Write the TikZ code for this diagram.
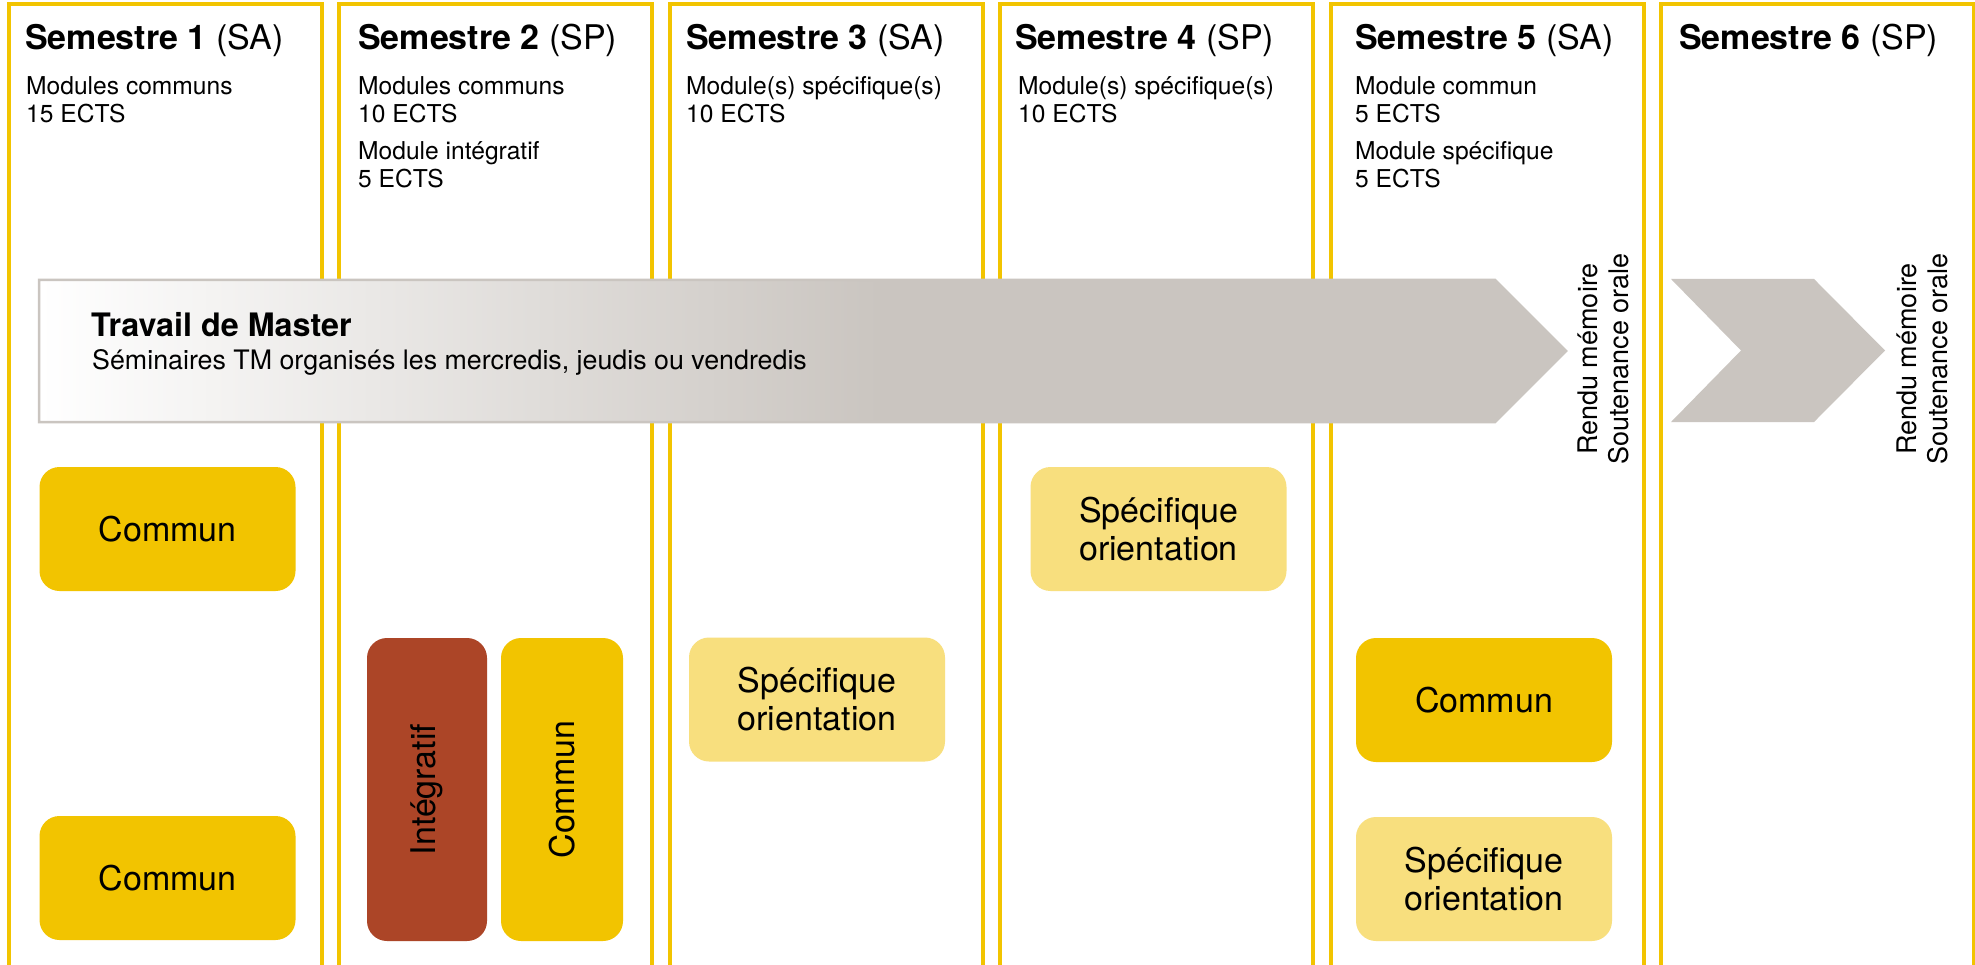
\documentclass[tikz,border=0pt]{standalone}
\usepackage{fontspec}
\setmainfont{TeX Gyre Heros}
\definecolor{colY}{HTML}{F2C400}
\definecolor{specY}{HTML}{F8DF7E}
\definecolor{integR}{HTML}{AC4527}
\definecolor{arrG}{HTML}{CAC5C0}
\begin{document}
\begin{tikzpicture}[x=1pt,y=-1pt,
  colframe/.style={draw=colY, line width=4pt},
  modbox/.style={rounded corners=20pt, minimum width=256pt, minimum height=124pt, inner sep=0pt, align=center, font=\fontsize{34}{38}\selectfont},
  commun/.style={modbox, fill=colY},
  spec/.style={modbox, fill=specY},
  integ/.style={modbox, fill=integR},
  head/.style={anchor=base west, inner sep=0pt, font=\fontsize{34}{40}\selectfont},
  body/.style={anchor=base west, inner sep=0pt, font=\fontsize{24.6}{28}\selectfont},
  milestone/.style={rotate=90, align=center, inner sep=0pt, font=\fontsize{27}{31}\selectfont},
  tmtitle/.style={anchor=base west, inner sep=0pt, font=\fontsize{32.3}{38}\selectfont\bfseries},
  tmsub/.style={anchor=base west, inner sep=0pt, font=\fontsize{26.8}{30}\selectfont}
]
\useasboundingbox (0,0) rectangle (1975,965);
\fill[white] (0,0) rectangle (1975,965);

% column frames
\foreach \i in {0,...,5} {
  \pgfmathsetmacro\L{9+330.4*\i}
  \pgfmathsetmacro\R{\L+313}
  \draw[colframe] (\L,965) -- (\L,4.5) -- (\R,4.5) -- (\R,965);
}

% headers
\node[head] (h1) at (25,50) {\textbf{Semestre 1} (SA)};
\node[head] (h2) at (358,50) {\textbf{Semestre 2} (SP)};
\node[head] (h3) at (686,50) {\textbf{Semestre 3} (SA)};
\node[head] (h4) at (1015,50) {\textbf{Semestre 4} (SP)};
\node[head] (h5) at (1355,50) {\textbf{Semestre 5} (SA)};
\node[head] (h6) at (1679,50) {\textbf{Semestre 6} (SP)};

% body texts
\node[body] (b1a) at (26,95) {Modules communs};
\node[body] (b1b) at (26,123) {15 ECTS};
\node[body] (b2a) at (358,95) {Modules communs};
\node[body] (b2b) at (358,123) {10 ECTS};
\node[body] (b2c) at (358,160) {Module intégratif};
\node[body] (b2d) at (358,188) {5 ECTS};
\node[body] (b3a) at (686,95) {Module(s) spécifique(s)};
\node[body] (b3b) at (686,123) {10 ECTS};
\node[body] (b4a) at (1018,95) {Module(s) spécifique(s)};
\node[body] (b4b) at (1018,123) {10 ECTS};
\node[body] (b5a) at (1355,95) {Module commun};
\node[body] (b5b) at (1355,123) {5 ECTS};
\node[body] (b5c) at (1355,160) {Module spécifique};
\node[body] (b5d) at (1355,188) {5 ECTS};

% Travail de Master arrow
\fill[arrG] (39,280) -- (1495,280) -- (1566,351) -- (1495,422) -- (39,422) -- cycle;
\shade[left color=white, right color=arrG] (39,280) rectangle (880,422);
\draw[arrG, line width=2.5pt, line join=miter] (39,280) -- (1495,280) -- (1566,351) -- (1495,422) -- (39,422) -- cycle;
\node[tmtitle] (tm) at (91,337) {Travail de Master};
\node[tmsub] (tms) at (92,370) {Séminaires TM organisés les mercredis, jeudis ou vendredis};

% chevron semester 6
\fill[arrG] (1671,279) -- (1814,279) -- (1885,350.5) -- (1814,422) -- (1671,422) -- (1741,350.5) -- cycle;

% milestones
\node[milestone] (m5) at (1603,359) {Rendu mémoire\\Soutenance orale};
\node[milestone] (m6) at (1922,359) {Rendu mémoire\\Soutenance orale};

% module boxes
\node[commun] (c1a) at (167.5,529) {Commun};
\node[commun] (c1b) at (167.5,878) {Commun};
\node[integ, rotate=90, minimum width=303pt, minimum height=120pt] (i2) at (427,789.5) {Intégratif};
\node[commun, rotate=90, minimum width=303pt, minimum height=122pt] (c2) at (562,789.5) {Commun};
\node[spec] (s3) at (817,699.5) {Spécifique\\orientation};
\node[spec] (s4) at (1158.5,529) {Spécifique\\orientation};
\node[commun] (c5) at (1484,700) {Commun};
\node[spec] (s5) at (1484,879) {Spécifique\\orientation};
\end{tikzpicture}
\end{document}
